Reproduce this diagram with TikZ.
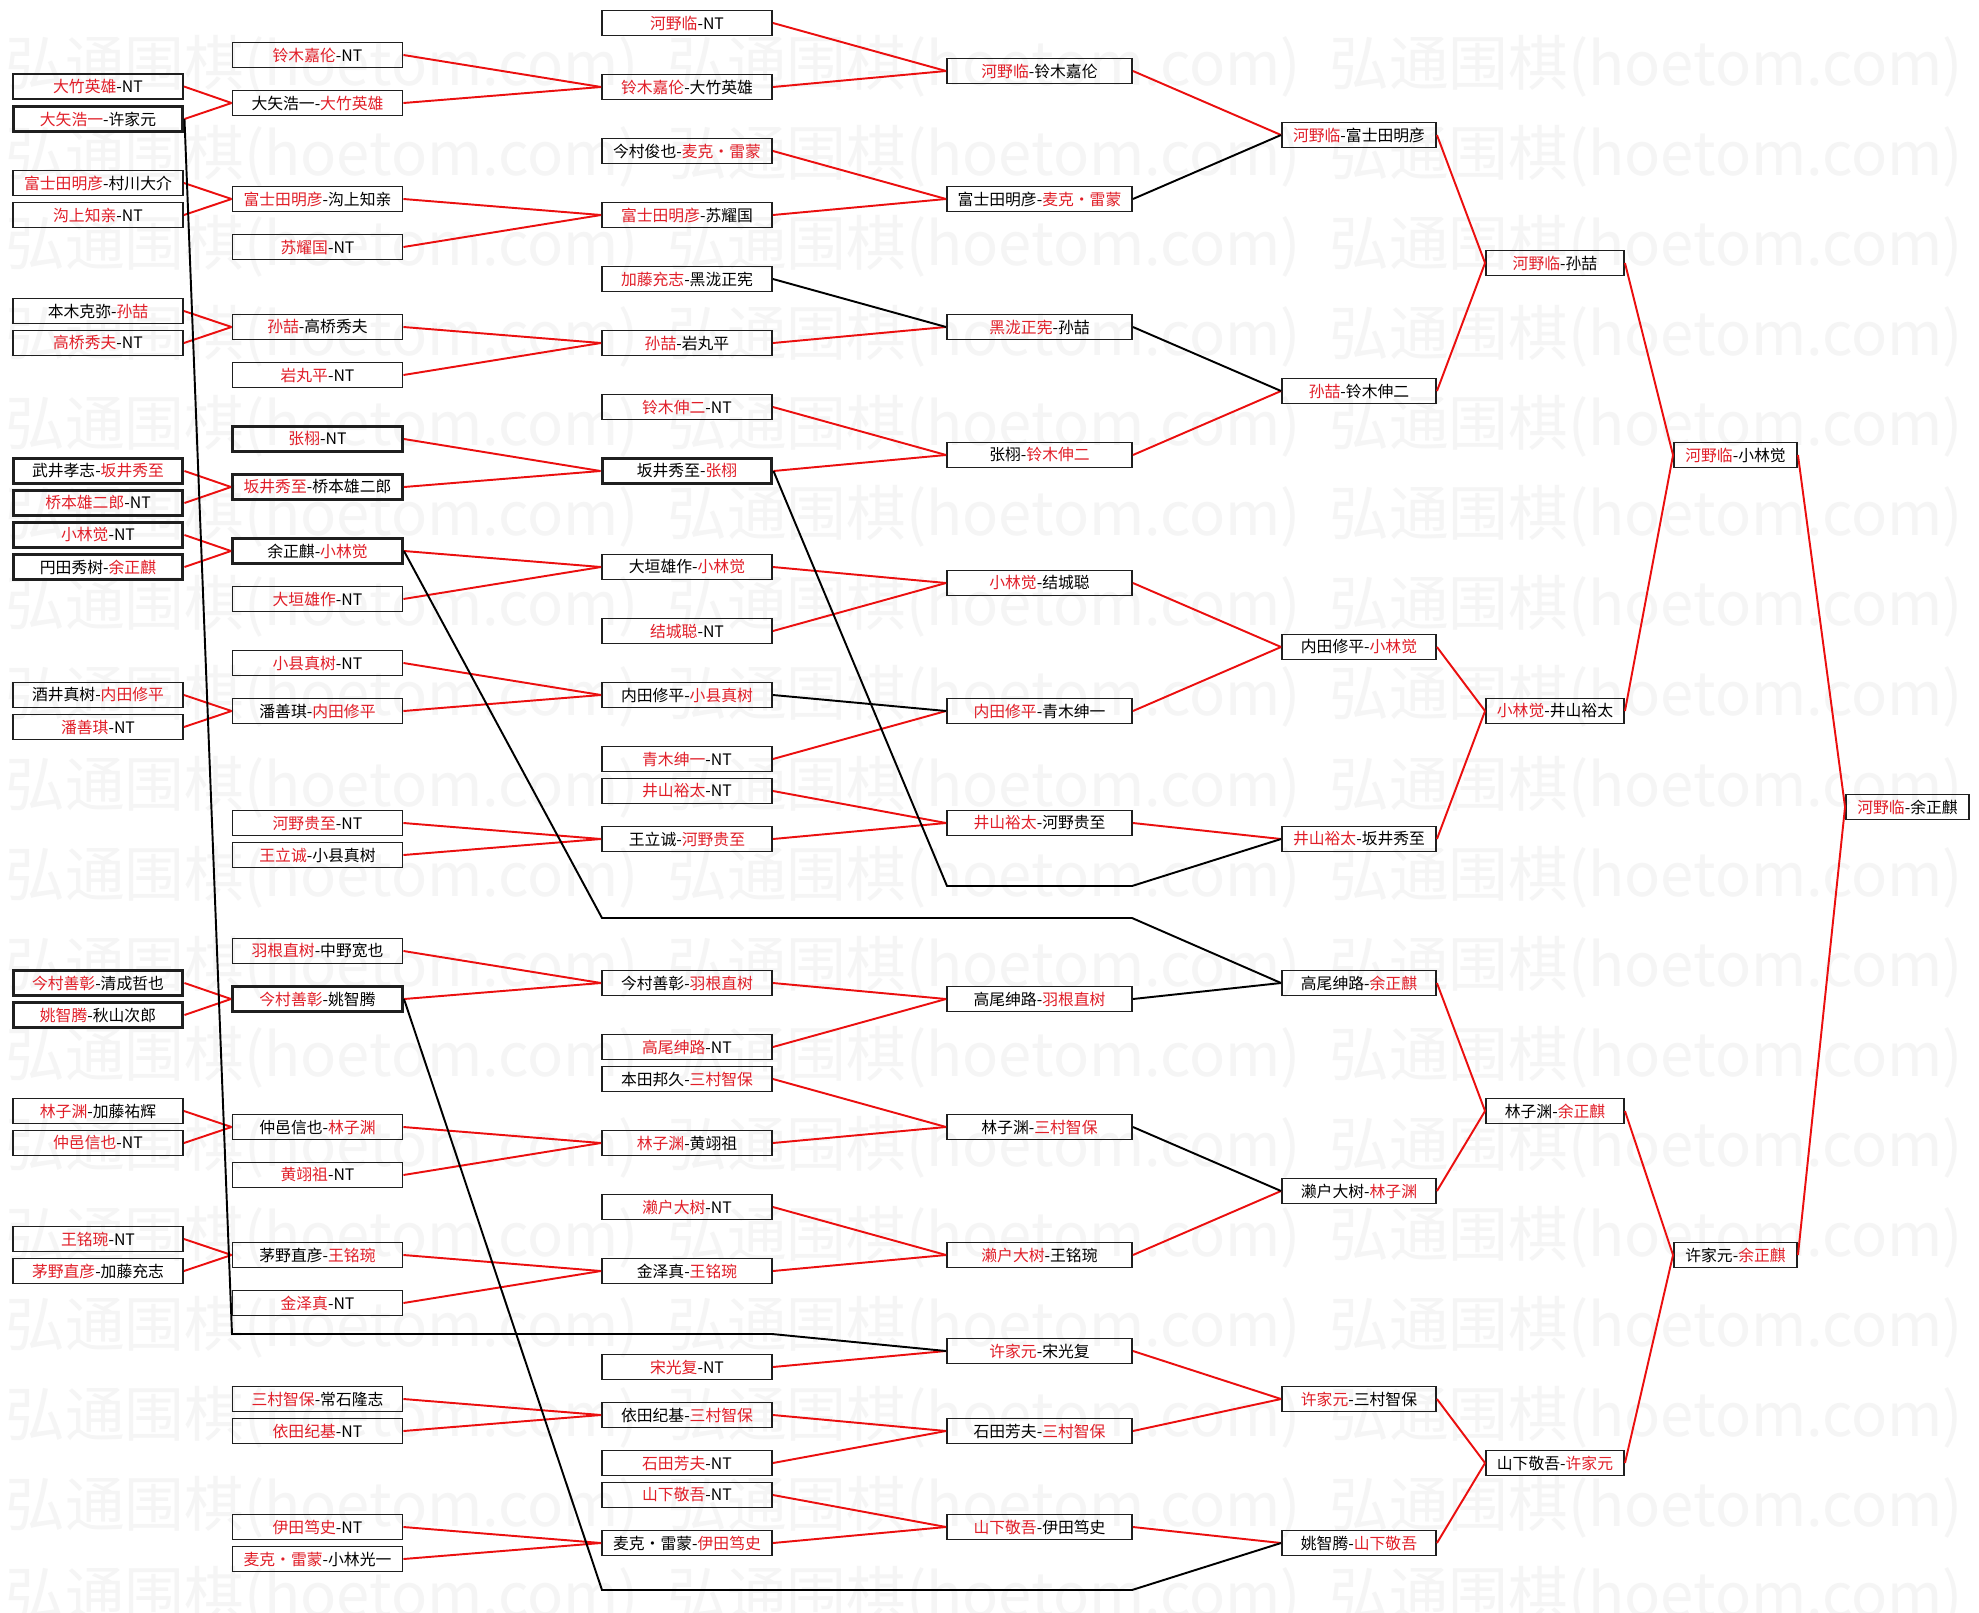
\documentclass[tikz,border=0pt]{standalone}
\usepackage{fontspec}
\newfontfamily\cjk{Noto Sans CJK SC}
\definecolor{winred}{RGB}{225,30,40}
\definecolor{linered}{RGB}{235,15,15}
\newcommand\w[1]{\textcolor{winred}{#1}}

\begin{document}
\begin{tikzpicture}[x=0.02cm,y=-0.02cm,
  game/.style={draw=black!88,line width=1.1pt,inner sep=0pt,minimum height=0.5cm,
    font=\cjk\fontsize{9}{10}\selectfont},
  seed/.style={game,line width=1.7pt},
  rA/.style={minimum width=3.4cm},
  rD/.style={minimum width=3.7cm},
  rE/.style={minimum width=3.08cm},
  rF/.style={minimum width=2.76cm},
  rG/.style={minimum width=2.46cm},
  win/.style={linered,line width=1.1pt},
  lose/.style={black,line width=1.1pt},
  wm/.style={anchor=west,inner sep=0pt,text=black!4,font=\cjk\fontsize{34}{34}\selectfont}]
\useasboundingbox (0,0) rectangle (1979,1613);
\fill[white] (0,0) rectangle (1979,1613);
\foreach \k in {0,...,17}
  \foreach \i in {0,1,2}
    \node[wm] (wm\k-\i) at (5+662*\i,66+90.1*\k) {弘通围棋(hoetom.com)};
% first round
\node[game,rA] (a1) at (98,86.5) {\w{大竹英雄}-NT};
\node[seed,rA] (a2) at (98,119) {\w{大矢浩一}-许家元};
\node[game,rA] (a3) at (98,183) {\w{富士田明彦}-村川大介};
\node[game,rA] (a4) at (98,215) {\w{沟上知亲}-NT};
\node[game,rA] (a5) at (98,311) {本木克弥-\w{孙喆}};
\node[game,rA] (a6) at (98,343) {\w{高桥秀夫}-NT};
\node[seed,rA] (a7) at (98,471) {武井孝志-\w{坂井秀至}};
\node[seed,rA] (a8) at (98,503) {\w{桥本雄二郎}-NT};
\node[seed,rA] (a9) at (98,535) {\w{小林觉}-NT};
\node[seed,rA] (a10) at (98,567) {円田秀树-\w{余正麒}};
\node[game,rA] (a11) at (98,695) {酒井真树-\w{内田修平}};
\node[game,rA] (a12) at (98,727) {\w{潘善琪}-NT};
\node[seed,rA] (a13) at (98,983) {\w{今村善彰}-清成哲也};
\node[seed,rA] (a14) at (98,1015) {\w{姚智腾}-秋山次郎};
\node[game,rA] (a15) at (98,1111) {\w{林子渊}-加藤祐辉};
\node[game,rA] (a16) at (98,1143) {\w{仲邑信也}-NT};
\node[game,rA] (a17) at (98,1239) {\w{王铭琬}-NT};
\node[game,rA] (a18) at (98,1271) {\w{茅野直彦}-加藤充志};
% second round
\node[game,rA] (b1) at (317.5,55) {\w{铃木嘉伦}-NT};
\node[game,rA] (b2) at (317.5,103) {大矢浩一-\w{大竹英雄}};
\node[game,rA] (b3) at (317.5,199) {\w{富士田明彦}-沟上知亲};
\node[game,rA] (b4) at (317.5,247) {\w{苏耀国}-NT};
\node[game,rA] (b5) at (317.5,327) {\w{孙喆}-高桥秀夫};
\node[game,rA] (b6) at (317.5,375) {\w{岩丸平}-NT};
\node[seed,rA] (b7) at (317.5,439) {\w{张栩}-NT};
\node[seed,rA] (b8) at (317.5,487) {\w{坂井秀至}-桥本雄二郎};
\node[seed,rA] (b9) at (317.5,551) {余正麒-\w{小林觉}};
\node[game,rA] (b10) at (317.5,599) {\w{大垣雄作}-NT};
\node[game,rA] (b11) at (317.5,663) {\w{小县真树}-NT};
\node[game,rA] (b12) at (317.5,711) {潘善琪-\w{内田修平}};
\node[game,rA] (b13) at (317.5,823) {\w{河野贵至}-NT};
\node[game,rA] (b14) at (317.5,855) {\w{王立诚}-小县真树};
\node[game,rA] (b15) at (317.5,951) {\w{羽根直树}-中野宽也};
\node[seed,rA] (b16) at (317.5,999) {\w{今村善彰}-姚智腾};
\node[game,rA] (b17) at (317.5,1127) {仲邑信也-\w{林子渊}};
\node[game,rA] (b18) at (317.5,1175) {\w{黄翊祖}-NT};
\node[game,rA] (b19) at (317.5,1255) {茅野直彦-\w{王铭琬}};
\node[game,rA] (b20) at (317.5,1303) {\w{金泽真}-NT};
\node[game,rA] (b21) at (317.5,1399) {\w{三村智保}-常石隆志};
\node[game,rA] (b22) at (317.5,1431) {\w{依田纪基}-NT};
\node[game,rA] (b23) at (317.5,1527) {\w{伊田笃史}-NT};
\node[game,rA] (b24) at (317.5,1559) {\w{麦克・雷蒙}-小林光一};
% third round
\node[game,rA] (c1) at (687,23) {\w{河野临}-NT};
\node[game,rA] (c2) at (687,87) {\w{铃木嘉伦}-大竹英雄};
\node[game,rA] (c3) at (687,151) {今村俊也-\w{麦克・雷蒙}};
\node[game,rA] (c4) at (687,215) {\w{富士田明彦}-苏耀国};
\node[game,rA] (c5) at (687,279) {\w{加藤充志}-黑泷正宪};
\node[game,rA] (c6) at (687,343) {\w{孙喆}-岩丸平};
\node[game,rA] (c7) at (687,407) {\w{铃木伸二}-NT};
\node[seed,rA] (c8) at (687,471) {坂井秀至-\w{张栩}};
\node[game,rA] (c9) at (687,567) {大垣雄作-\w{小林觉}};
\node[game,rA] (c10) at (687,631) {\w{结城聪}-NT};
\node[game,rA] (c11) at (687,695) {内田修平-\w{小县真树}};
\node[game,rA] (c12) at (687,759) {\w{青木绅一}-NT};
\node[game,rA] (c13) at (687,791) {\w{井山裕太}-NT};
\node[game,rA] (c14) at (687,839) {王立诚-\w{河野贵至}};
\node[game,rA] (c15) at (687,983) {今村善彰-\w{羽根直树}};
\node[game,rA] (c16) at (687,1047) {\w{高尾绅路}-NT};
\node[game,rA] (c17) at (687,1079) {本田邦久-\w{三村智保}};
\node[game,rA] (c18) at (687,1143) {\w{林子渊}-黄翊祖};
\node[game,rA] (c19) at (687,1207) {\w{濑户大树}-NT};
\node[game,rA] (c20) at (687,1271) {金泽真-\w{王铭琬}};
\node[game,rA] (c21) at (687,1367) {\w{宋光复}-NT};
\node[game,rA] (c22) at (687,1415) {依田纪基-\w{三村智保}};
\node[game,rA] (c23) at (687,1463) {\w{石田芳夫}-NT};
\node[game,rA] (c24) at (687,1495) {\w{山下敬吾}-NT};
\node[game,rA] (c25) at (687,1543) {麦克・雷蒙-\w{伊田笃史}};
% fourth round
\node[game,rD] (d1) at (1039.5,71) {\w{河野临}-铃木嘉伦};
\node[game,rD] (d2) at (1039.5,199) {富士田明彦-\w{麦克・雷蒙}};
\node[game,rD] (d3) at (1039.5,327) {\w{黑泷正宪}-孙喆};
\node[game,rD] (d4) at (1039.5,455) {张栩-\w{铃木伸二}};
\node[game,rD] (d5) at (1039.5,583) {\w{小林觉}-结城聪};
\node[game,rD] (d6) at (1039.5,711) {\w{内田修平}-青木绅一};
\node[game,rD] (d7) at (1039.5,823) {\w{井山裕太}-河野贵至};
\node[game,rD] (d8) at (1039.5,999) {高尾绅路-\w{羽根直树}};
\node[game,rD] (d9) at (1039.5,1127) {林子渊-\w{三村智保}};
\node[game,rD] (d10) at (1039.5,1255) {\w{濑户大树}-王铭琬};
\node[game,rD] (d11) at (1039.5,1351) {\w{许家元}-宋光复};
\node[game,rD] (d12) at (1039.5,1431) {石田芳夫-\w{三村智保}};
\node[game,rD] (d13) at (1039.5,1527) {\w{山下敬吾}-伊田笃史};
% later rounds
\node[game,rE] (e1) at (1359,135) {\w{河野临}-富士田明彦};
\node[game,rE] (e2) at (1359,391) {\w{孙喆}-铃木伸二};
\node[game,rE] (e3) at (1359,647) {内田修平-\w{小林觉}};
\node[game,rE] (e4) at (1359,839) {\w{井山裕太}-坂井秀至};
\node[game,rE] (e5) at (1359,983) {高尾绅路-\w{余正麒}};
\node[game,rE] (e6) at (1359,1191) {濑户大树-\w{林子渊}};
\node[game,rE] (e7) at (1359,1399) {\w{许家元}-三村智保};
\node[game,rE] (e8) at (1359,1543) {姚智腾-\w{山下敬吾}};
\node[game,rF] (f1) at (1555,263) {\w{河野临}-孙喆};
\node[game,rF] (f2) at (1555,711) {\w{小林觉}-井山裕太};
\node[game,rF] (f3) at (1555,1111) {林子渊-\w{余正麒}};
\node[game,rF] (f4) at (1555,1463) {山下敬吾-\w{许家元}};
\node[game,rG] (g1) at (1735.5,455) {\w{河野临}-小林觉};
\node[game,rG] (g2) at (1735.5,1255) {许家元-\w{余正麒}};
\node[game,rG] (h) at (1907.5,807) {\w{河野临}-余正麒};
% winners go on
\foreach \s/\t in {a1/b2,a2/b2,a3/b3,a4/b3,a5/b5,a6/b5,a7/b8,a8/b8,a9/b9,a10/b9,
    a11/b12,a12/b12,a13/b16,a14/b16,a15/b17,a16/b17,a17/b19,a18/b19,
    b1/c2,b2/c2,b3/c4,b4/c4,b5/c6,b6/c6,b7/c8,b8/c8,b9/c9,b10/c9,b11/c11,b12/c11,
    b13/c14,b14/c14,b15/c15,b16/c15,b17/c18,b18/c18,b19/c20,b20/c20,b21/c22,b22/c22,
    b23/c25,b24/c25,
    c1/d1,c2/d1,c3/d2,c4/d2,c6/d3,c7/d4,c8/d4,c9/d5,c10/d5,c12/d6,c13/d7,c14/d7,
    c15/d8,c16/d8,c17/d9,c18/d9,c19/d10,c20/d10,c21/d11,c22/d12,c23/d12,c24/d13,c25/d13,
    d1/e1,d4/e2,d5/e3,d6/e3,d7/e4,d10/e6,d11/e7,d12/e7,d13/e8,
    e1/f1,e2/f1,e3/f2,e4/f2,e5/f3,e6/f3,e7/f4,e8/f4,f1/g1,f2/g1,f3/g2,f4/g2,g1/h,g2/h}
  \draw[win] (\s.east) -- (\t.west);
% losers go on
\foreach \s/\t in {c5/d3,c11/d6,d2/e1,d3/e2,d8/e5,d9/e6}
  \draw[lose] (\s.east) -- (\t.west);
\coordinate (k1) at (232,1334);
\coordinate (k2) at (772,1334);
\coordinate (k3) at (602,918);
\coordinate (k4) at (1132,918);
\coordinate (k5) at (602,1590);
\coordinate (k6) at (1132,1590);
\coordinate (k7) at (947,886);
\coordinate (k8) at (1132,886);
\draw[lose] (a2.east) -- (k1) -- (k2) -- (d11.west);
\draw[lose] (b9.east) -- (k3) -- (k4) -- (e5.west);
\draw[lose] (b16.east) -- (k5) -- (k6) -- (e8.west);
\draw[lose] (c8.east) -- (k7) -- (k8) -- (e4.west);
\end{tikzpicture}
\end{document}
